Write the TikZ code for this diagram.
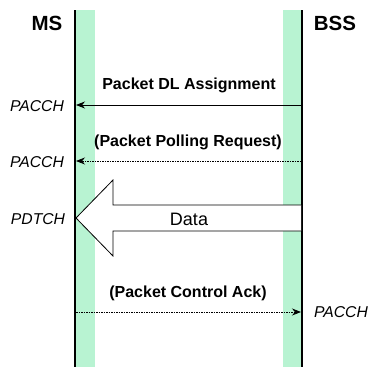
\documentclass[tikz,border=0pt]{standalone}
\usepackage{fontspec}
\setmainfont{Liberation Sans}
\usetikzlibrary{arrows.meta}
\definecolor{band}{RGB}{184,243,210}
\tikzset{
  lifeline/.style={line width=2pt, black},
  bandfill/.style={fill=band, draw=none},
  msg/.style={line width=0.8pt, -{Stealth[length=9pt,width=7pt]}},
  pollmsg/.style={msg, dash pattern=on 1.5pt off 1pt},
  msglabel/.style={font=\bfseries\fontsize{16}{19}\selectfont, inner sep=0pt},
  chan/.style={font=\itshape\fontsize{15.7}{18}\selectfont, inner sep=0pt},
  entity/.style={font=\bfseries\fontsize{20.5}{24}\selectfont, inner sep=0pt},
}
\begin{document}
\begin{tikzpicture}[x=1pt,y=-1pt]
\useasboundingbox (0,0) rectangle (371,367);
% channel bands beside the lifelines
\fill[bandfill] (76,10) rectangle (95,367);
\fill[bandfill] (283,10) rectangle (301,367);
% lifelines
\coordinate (msTop) at (75,10);
\coordinate (msBot) at (75,367);
\coordinate (bssTop) at (302,10);
\coordinate (bssBot) at (302,367);
\draw[lifeline] (msTop) -- (msBot);
\draw[lifeline] (bssTop) -- (bssBot);
\node[entity] (ms) at (47,23) {MS};
\node[entity] (bss) at (335,23) {BSS};
% Packet DL Assignment
\coordinate (a1s) at (301,105);
\coordinate (a1e) at (76,105);
\draw[msg] (a1s) -- (a1e);
\node[msglabel] (l1) at (189,85) {Packet DL Assignment};
\node[chan] (c1) at (37,106) {PACCH};
% Packet Polling Request
\coordinate (a2s) at (301,161);
\coordinate (a2e) at (76,161);
\draw[pollmsg] (a2s) -- (a2e);
\node[msglabel] (l2) at (188,142) {(Packet Polling Request)};
\node[chan] (c2) at (37,162) {PACCH};
% Data block arrow
\draw[line width=0.8pt, fill=white]
  (301,205) -- (113,205) -- (113,180) -- (76,218) -- (113,256)
  -- (113,231) -- (301,231);
\node[font=\fontsize{18}{21}\selectfont, inner sep=0pt] (data) at (189,219) {Data};
\node[chan] (c3) at (38,219) {PDTCH};
% Packet Control Ack
\coordinate (a4s) at (76,312);
\coordinate (a4e) at (301,312);
\draw[pollmsg] (a4s) -- (a4e);
\node[msglabel] (l4) at (188,293) {(Packet Control Ack)};
\node[chan] (c4) at (341,312) {PACCH};
\end{tikzpicture}
\end{document}
